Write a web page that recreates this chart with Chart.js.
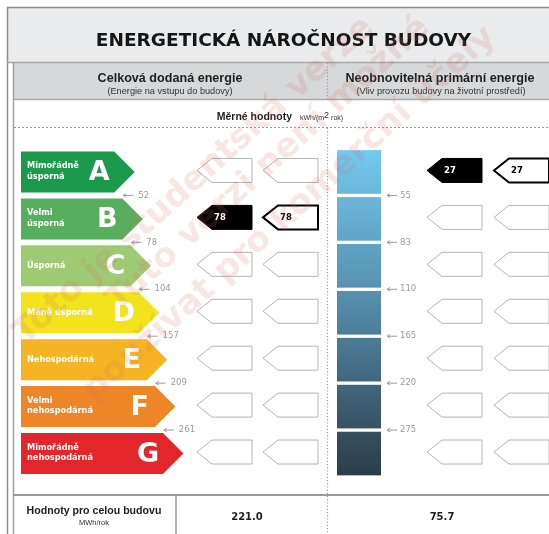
<!DOCTYPE html>
<html>
<head>
<meta charset="utf-8">
<script src="https://cdn.jsdelivr.net/npm/chart.js@4"></script>
<style>
  html, body { margin: 0; padding: 0; background: #fff; }
  #wrap { width: 549px; height: 534px; }
</style>
</head>
<body>
<div id="wrap"><canvas id="myCanvas" width="549" height="534"></canvas></div>
<script>
// ---- data ----
const classes = ["A", "B", "C", "D", "E", "F", "G"];
const classNames = [
  ["Mimořádně", "úsporná"],
  ["Velmi", "úsporná"],
  ["Úsporná"],
  ["Méně úsporná"],
  ["Nehospodárná"],
  ["Velmi", "nehospodárná"],
  ["Mimořádně", "nehospodárná"],
];
const classRank = [1, 2, 3, 4, 5, 6, 7];
const deliveredLimits = [52, 78, 104, 157, 209, 261];
const primaryLimits = [55, 83, 110, 165, 220, 275];
const deliveredValue = 78;
const primaryValue = 27;
const deliveredTotal = 221.0;
const primaryTotal = 75.7;

// ---- styles / layout ----
const classColors = ["#1b9a4b", "#58ae5f", "#9fca74", "#f2e31c", "#f6b424", "#ee8628", "#e3262c"];
const ARIAL = '"Liberation Sans", Arial, sans-serif';
const DEJA = '"DejaVu Sans", Verdana, sans-serif';
const PRIMARY_COL = [25.9, 31.32]; // x range of the primary energy scale column (value-axis units)
const leftTagX = [197, 263];
const rightTagX = [427, 494];
const TAG_W = 55;

const classOf = (v, limits) => {
  const i = limits.findIndex(l => v <= l);
  return i < 0 ? limits.length : i;
};

const txt = (ctx, s, x, y, font, color, align = "left", base = "alphabetic") => {
  ctx.font = font;
  ctx.fillStyle = color;
  ctx.textAlign = align;
  ctx.textBaseline = base;
  ctx.fillText(s, x, y);
};

const line = (ctx, x1, y1, x2, y2, color, w, dash) => {
  ctx.save();
  ctx.strokeStyle = color;
  ctx.lineWidth = w;
  ctx.setLineDash(dash || []);
  ctx.beginPath();
  ctx.moveTo(x1, y1);
  ctx.lineTo(x2, y2);
  ctx.stroke();
  ctx.restore();
};

const tag = (ctx, x0, cy, fill, stroke, lw, label, labelColor) => {
  const top = cy - 12, bot = cy + 12;
  ctx.save();
  ctx.beginPath();
  ctx.moveTo(x0, cy);
  ctx.lineTo(x0 + 15, top);
  ctx.lineTo(x0 + TAG_W, top);
  ctx.lineTo(x0 + TAG_W, bot);
  ctx.lineTo(x0 + 15, bot);
  ctx.closePath();
  ctx.fillStyle = fill;
  ctx.fill();
  ctx.strokeStyle = stroke;
  ctx.lineWidth = lw;
  ctx.stroke();
  ctx.restore();
  if (label) txt(ctx, label, x0 + 17, cy + 0.5, `bold 8.5px ${DEJA}`, labelColor, "left", "middle");
};

const certificate = {
  id: "certificate",
  beforeDraw(chart) {
    const ctx = chart.ctx;
    ctx.save();
    ctx.fillStyle = "#fff";
    ctx.fillRect(0, 0, chart.width, chart.height);
    ctx.fillStyle = "#e9ebed";
    ctx.fillRect(7, 7, 542, 55);
    ctx.fillStyle = "#d6d8da";
    ctx.fillRect(13, 62, 536, 38);
    ctx.restore();

    line(ctx, 7.5, 7, 7.5, 534, "#8c8c8c", 1.5);
    line(ctx, 7, 7.5, 549, 7.5, "#8c8c8c", 1.5);
    line(ctx, 7, 62.5, 549, 62.5, "#a8a8a8", 1.5);
    line(ctx, 13, 99.5, 549, 99.5, "#a8a8a8", 1.5);
    line(ctx, 13.5, 62, 13.5, 534, "#a0a0a0", 1.5);

    txt(ctx, "ENERGETICKÁ NÁROČNOST BUDOVY", 283.5, 46, `bold 18.5px ${DEJA}`, "#161616", "center");
    txt(ctx, "Celková dodaná energie", 170, 82, `bold 12.6px ${ARIAL}`, "#1e1e1e", "center");
    txt(ctx, "(Energie na vstupu do budovy)", 170, 94, `9.2px ${ARIAL}`, "#333", "center");
    txt(ctx, "Neobnovitelná primární energie", 440, 82, `bold 12.6px ${ARIAL}`, "#1e1e1e", "center");
    txt(ctx, "(Vliv provozu budovy na životní prostředí)", 441, 94, `9.2px ${ARIAL}`, "#333", "center");

    txt(ctx, "Měrné hodnoty", 292, 120, `bold 10.5px ${ARIAL}`, "#1e1e1e", "right");
    ctx.font = `7px ${ARIAL}`;
    const w1 = ctx.measureText("kWh/(m").width;
    txt(ctx, "kWh/(m", 300, 120, `7px ${ARIAL}`, "#333");
    txt(ctx, "2", 300 + w1, 118, `9px ${ARIAL}`, "#333");
    ctx.font = `9px ${ARIAL}`;
    const w2 = ctx.measureText("2").width;
    txt(ctx, " rok)", 300 + w1 + w2, 120, `7px ${ARIAL}`, "#333");

    line(ctx, 14, 127.5, 549, 127.5, "#9a9a9a", 1, [2, 2]);
    line(ctx, 327.5, 63, 327.5, 99, "#9a9a9a", 1.2, [1.2, 2]);
    line(ctx, 327.5, 128, 327.5, 534, "#9a9a9a", 1.2, [1.2, 2]);
  },
  beforeDatasetDraw(chart, args) {
    const ctx = chart.ctx;
    const meta = chart.getDatasetMeta(args.index);
    if (args.index === 0) {
      meta.data.forEach((el, i) => {
        const h = el.height, d = h / 2;
        ctx.beginPath();
        ctx.moveTo(el.base, el.y - d);
        ctx.lineTo(el.x - d, el.y - d);
        ctx.lineTo(el.x, el.y);
        ctx.lineTo(el.x - d, el.y + d);
        ctx.lineTo(el.base, el.y + d);
        ctx.closePath();
        ctx.fillStyle = classColors[i];
        ctx.fill();
        const names = classNames[i];
        const f = `bold 8.2px ${DEJA}`;
        if (names.length === 2) {
          txt(ctx, names[0], el.base + 6, el.y - 6, f, "#fff", "left", "middle");
          txt(ctx, names[1], el.base + 6, el.y + 4.5, f, "#fff", "left", "middle");
        } else {
          txt(ctx, names[0], el.base + 6, el.y, f, "#fff", "left", "middle");
        }
        txt(ctx, classes[i], el.x - 35.5, el.y + 1, `bold 27px ${DEJA}`, "#fff", "center", "middle");
      });
    } else {
      const first = meta.data[0], last = meta.data[meta.data.length - 1];
      const g = ctx.createLinearGradient(0, first.y - first.height / 2, 0, last.y + last.height / 2);
      g.addColorStop(0, "#74c9f0");
      g.addColorStop(0.5, "#5287a5");
      g.addColorStop(1, "#2b3c48");
      meta.data.forEach(el => {
        const x0 = Math.min(el.x, el.base), x1 = Math.max(el.x, el.base);
        ctx.fillStyle = g;
        ctx.fillRect(x0, el.y - el.height / 2, x1 - x0, el.height);
      });
    }
    return false;
  },
  afterDatasetsDraw(chart) {
    const ctx = chart.ctx;
    const y = chart.scales.y;
    const arrows = chart.getDatasetMeta(0).data;
    const col = chart.getDatasetMeta(1).data;
    const gray = "#9b9b9b";

    deliveredLimits.forEach((v, i) => {
      const yy = (y.getPixelForValue(i) + y.getPixelForValue(i + 1)) / 2;
      const tx = arrows[i].x + 3.5;
      line(ctx, tx - 15, yy, tx - 5, yy, gray, 1);
      line(ctx, tx - 15, yy, tx - 12, yy - 1.8, gray, 1);
      line(ctx, tx - 15, yy, tx - 12, yy + 1.8, gray, 1);
      txt(ctx, String(v), tx, yy, `8.5px ${DEJA}`, gray, "left", "middle");
    });
    primaryLimits.forEach((v, i) => {
      const yy = (y.getPixelForValue(i) + y.getPixelForValue(i + 1)) / 2;
      const tx = Math.max(col[i].x, col[i].base) + 19;
      line(ctx, tx - 13, yy, tx - 3, yy, gray, 1);
      line(ctx, tx - 13, yy, tx - 10, yy - 1.8, gray, 1);
      line(ctx, tx - 13, yy, tx - 10, yy + 1.8, gray, 1);
      txt(ctx, String(v), tx, yy, `8.5px ${DEJA}`, gray, "left", "middle");
    });

    const dIdx = classOf(deliveredValue, deliveredLimits);
    const pIdx = classOf(primaryValue, primaryLimits);
    classes.forEach((c, i) => {
      const cy = y.getPixelForValue(i) - 1.5;
      [[leftTagX, dIdx, deliveredValue], [rightTagX, pIdx, primaryValue]].forEach(([xs, idx, val]) => {
        if (i === idx) {
          tag(ctx, xs[0], cy, "#000", "#000", 1, String(val), "#fff");
          tag(ctx, xs[1], cy, "#fff", "#000", 2, String(val), "#000");
        } else {
          tag(ctx, xs[0], cy, "#fff", "#b4b4b4", 1);
          tag(ctx, xs[1], cy, "#fff", "#b4b4b4", 1);
        }
      });
    });
  },
  afterDraw(chart) {
    const ctx = chart.ctx;
    line(ctx, 13, 495, 549, 495, "#9a9a9a", 2);
    line(ctx, 176, 495, 176, 534, "#9a9a9a", 1.5);
    txt(ctx, "Hodnoty pro celou budovu", 94, 514, `bold 10.6px ${ARIAL}`, "#1e1e1e", "center");
    txt(ctx, "MWh/rok", 94, 525, `7.5px ${ARIAL}`, "#333", "center");
    txt(ctx, deliveredTotal.toFixed(1), 247, 520, `bold 10px ${DEJA}`, "#1e1e1e", "center");
    txt(ctx, primaryTotal.toFixed(1), 442, 520, `bold 10px ${DEJA}`, "#1e1e1e", "center");

    // watermark
    const marks = [
      ["Toto je studentská verze", 25, 345],
      ["Tuto verzi není možné", 118, 312],
      ["používat pro komerční účely", 94, 402],
    ];
    ctx.save();
    ctx.font = `bold 34px ${DEJA}`;
    ctx.fillStyle = "rgba(200, 115, 90, 0.17)";
    ctx.textAlign = "left";
    ctx.textBaseline = "alphabetic";
    marks.forEach(([s, x, yy]) => {
      ctx.save();
      ctx.translate(x, yy);
      ctx.rotate(-42 * Math.PI / 180);
      ctx.fillText(s, 0, 0);
      ctx.restore();
    });
    ctx.restore();
  },
};

const canvas = document.getElementById("myCanvas");
const ctx = canvas.getContext("2d");

new Chart(ctx, {
  type: "bar",
  data: {
    labels: classes,
    datasets: [
      {
        label: "Celková dodaná energie",
        data: classRank,
        base: -13,
        backgroundColor: classColors,
        barPercentage: 0.874,
        categoryPercentage: 1,
        grouped: false,
      },
      {
        label: "Neobnovitelná primární energie",
        data: classes.map(() => PRIMARY_COL),
        backgroundColor: "#5287a5",
        barPercentage: 0.93,
        categoryPercentage: 1,
        grouped: false,
      },
    ],
  },
  options: {
    indexAxis: "y",
    responsive: false,
    animation: false,
    devicePixelRatio: 1,
    layout: { padding: { left: 21, right: 0, top: 148.5, bottom: 57 } },
    scales: {
      x: { display: false, min: -13, max: 52 },
      y: { display: false },
    },
    plugins: {
      legend: { display: false },
      tooltip: { enabled: false },
    },
  },
  plugins: [certificate],
});
</script>
</body>
</html>
